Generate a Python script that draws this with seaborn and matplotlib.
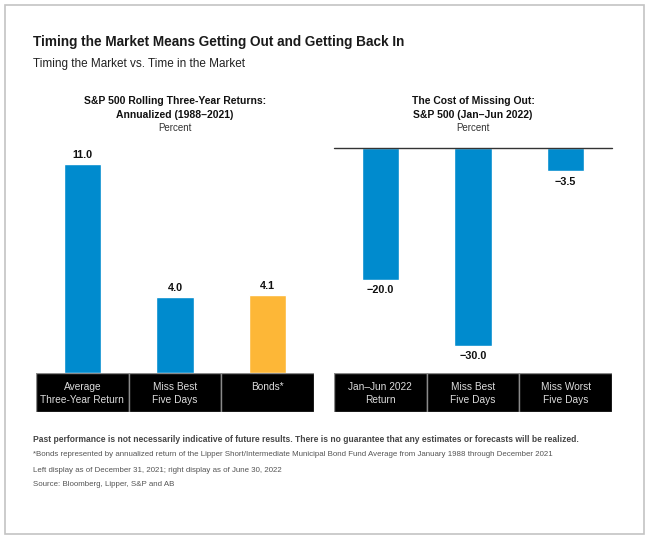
import matplotlib
matplotlib.use("Agg")
import matplotlib.pyplot as plt
import seaborn as sns
from matplotlib.patches import Rectangle

sns.set_style("white")
plt.rcParams['font.family'] = ['Liberation Sans', 'DejaVu Sans']

# data
left_cats = ["Average\nThree-Year Return", "Miss Best\nFive Days", "Bonds*"]
left_vals = [11.0, 4.0, 4.1]
left_cols = ["#008BCE", "#008BCE", "#FDB737"]

right_cats = ["Jan\u2013Jun 2022\nReturn", "Miss Best\nFive Days", "Miss Worst\nFive Days"]
right_vals = [-20.0, -30.0, -3.5]
right_cols = ["#008BCE", "#008BCE", "#008BCE"]

W, H = 650, 542


def box(x, y, w, h):
    # pixel box -> figure fraction
    return [x / W, 1 - (y + h) / H, w / W, h / H]


fig = plt.figure(figsize=(6.5, 5.42), dpi=100)

# outer frame
fig.patches.append(Rectangle((5 / W, 1 - 534 / H), 639 / W, 529 / H, transform=fig.transFigure,
                             fill=False, edgecolor="#c4c4c4", linewidth=1.2))

# headings
fig.text(33 / W, 1 - 42 / H, "Timing the Market Means Getting Out and Getting Back In",
         fontsize=9.8, weight='bold', color='#1a1a1a', va='center')
fig.text(33 / W, 1 - 64 / H, "Timing the Market vs. Time in the Market",
         fontsize=8.5, color='#222222', va='center')


def panel(x0, cats, vals, cols, ylim, title):
    ax = fig.add_axes(box(x0, 148, 278, 225))
    sns.barplot(x=list(range(len(cats))), y=vals, hue=list(range(len(cats))),
                palette=cols, width=0.4, saturation=1, legend=False, ax=ax)
    ax.set_xlim(-0.5, 2.5)
    ax.set_ylim(*ylim)
    ax.axis('off')
    for i, v in enumerate(vals):
        off = 6.5 if v > 0 else -7.5
        ax.annotate(f"{v:.1f}".replace("-", "\u2212"), (i, v), xytext=(0, off),
                    textcoords='offset points', ha='center', va='center',
                    fontsize=7.8, weight='bold', color='#111111')
    # category boxes
    lab = fig.add_axes(box(x0, 373, 278, 39))
    lab.set_xlim(-0.5, 2.5)
    lab.set_ylim(0, 1)
    lab.axis('off')
    for i, c in enumerate(cats):
        lab.add_patch(Rectangle((i - 0.5, 0), 1, 1, facecolor='black', edgecolor='#8a8a8a', lw=1))
        lab.text(i, 0.76, c, ha='center', va='top', color='#dcdcdc', fontsize=7.3, linespacing=1.3)
    cx = (x0 + 139) / W
    fig.text(cx, 1 - 108 / H, title, fontsize=7.5, weight='bold',
             ha='center', va='center', linespacing=1.5, color='#111111')
    fig.text(cx, 1 - 128 / H, "Percent", fontsize=7, ha='center', va='center', color='#333333')
    return ax


panel(36, left_cats, left_vals, left_cols, (0, 225 / 19),
      "S&P 500 Rolling Three-Year Returns:\nAnnualized (1988\u20132021)")
axr = panel(334, right_cats, right_vals, right_cols, (-225 / 6.6, 0),
            "The Cost of Missing Out:\nS&P 500 (Jan\u2013Jun 2022)")
axr.axhline(0, color='#333333', lw=1, clip_on=False)

# footnotes
fig.text(33 / W, 1 - 439 / H,
         "Past performance is not necessarily indicative of future results. There is no guarantee "
         "that any estimates or forecasts will be realized.",
         fontsize=6.15, weight='bold', color='#444444', va='center')
notes = ["*Bonds represented by annualized return of the Lipper Short/Intermediate Municipal Bond Fund "
         "Average from January 1988 through December 2021",
         "Left display as of December 31, 2021; right display as of June 30, 2022",
         "Source: Bloomberg, Lipper, S&P and AB"]
for k, t in enumerate(notes):
    fig.text(33 / W, 1 - (455 + 15 * k) / H, t, fontsize=5.7,
             color='#555555', va='center')

fig.savefig("out.png", dpi=100)
